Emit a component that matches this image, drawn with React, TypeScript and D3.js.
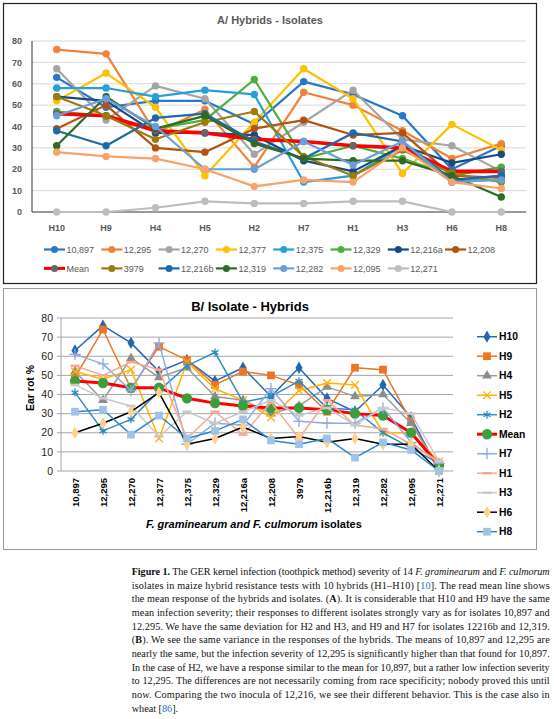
import React from 'react';
import * as d3 from 'd3';

// ---------- DATA ----------
const hybrids = ['H10', 'H9', 'H4', 'H5', 'H2', 'H7', 'H1', 'H3', 'H6', 'H8'];
const isolates = ['10,897', '12,295', '12,270', '12,377', '12,375', '12,329', '12,216a', '12,208', '3979', '12,216b', '12,319', '12,282', '12,095', '12,271'];
const yTicks = [0, 10, 20, 30, 40, 50, 60, 70, 80];

// ear rot % per isolate, in hybrid order H10, H9, H4, H5, H2, H7, H1, H3, H6, H8
const v10897 = [63, 49, 52, 52, 41, 61, 55, 45, 20, 31];
const v12295 = [76, 74, 37, 48, 21, 56, 50, 38, 25, 32];
const v12270 = [67, 43, 59, 53, 27, 42, 57, 34, 31, 19];
const v12377 = [52, 65, 49, 17, 42, 67, 53, 18, 41, 29];
const v12375 = [58, 58, 54, 57, 55, 14, 17, 31, 14, 17];
const v12329 = [47, 45, 39, 43, 62, 25, 31, 25, 17, 21];
const v12216a = [54, 52, 37, 37, 36, 24, 19, 31, 23, 27];
const v12208 = [39, 50, 30, 28, 39, 43, 36, 37, 17, 16];
const v3979 = [54, 45, 34, 42, 47, 26, 17, 29, 18, 14];
const v12216b = [38, 31, 44, 46, 33, 25, 37, 33, 15, 17];
const v12319 = [31, 54, 39, 45, 32, 25, 24, 24, 17, 7];
const v12282 = [45, 53, 40, 20, 20, 33, 22, 33, 14, 15];
const v12095 = [28, 26, 25, 20, 12, 15, 14, 30, 14, 11];
const v12271 = [0, 0, 2, 5, 4, 4, 5, 5, 0, 0];
const meanByHybrid = [46, 45, 38, 37, 34, 33, 31, 30, 19, 19];
const meanByIsolate = [47, 46, 43.5, 43.5, 38, 35.5, 34, 33, 33, 32, 30, 29, 20, 3];

const isolateValues = [v10897, v12295, v12270, v12377, v12375, v12329, v12216a, v12208, v3979, v12216b, v12319, v12282, v12095, v12271];

// ---------- STYLES ----------
const topSeries = [
  { name: '10,897', values: v10897, color: '#2878C8' },
  { name: '12,295', values: v12295, color: '#F0823A' },
  { name: '12,270', values: v12270, color: '#A5A5A5' },
  { name: '12,377', values: v12377, color: '#FFC000' },
  { name: '12,375', values: v12375, color: '#27A0DA' },
  { name: '12,329', values: v12329, color: '#4EAD3E' },
  { name: '12,216a', values: v12216a, color: '#174A80' },
  { name: '12,208', values: v12208, color: '#B35312' },
  { name: 'Mean', values: meanByHybrid, color: '#FF0000', marker: '#666666', mean: true },
  { name: '3979', values: v3979, color: '#9E7B0C' },
  { name: '12,216b', values: v12216b, color: '#1F6AA5' },
  { name: '12,319', values: v12319, color: '#2F6B25' },
  { name: '12,282', values: v12282, color: '#6A9FDC' },
  { name: '12,095', values: v12095, color: '#F9A26C' },
  { name: '12,271', values: v12271, color: '#BDBDBD' },
];

const hyb = (h: string) => isolateValues.map((arr) => arr[hybrids.indexOf(h)]);

type BS = { name: string; values: number[]; line: string; fill: string; sym: string; width?: number };
const bottomSeries: BS[] = [
  { name: 'H10', values: hyb('H10'), line: '#2366B4', fill: '#2366B4', sym: 'diamond' },
  { name: 'H9', values: hyb('H9'), line: '#EC7424', fill: '#EC7424', sym: 'square' },
  { name: 'H4', values: hyb('H4'), line: '#9A9A9A', fill: '#8C8C8C', sym: 'triangle' },
  { name: 'H5', values: hyb('H5'), line: '#FFB300', fill: '#FFB300', sym: 'times' },
  { name: 'H2', values: hyb('H2'), line: '#2A8CC4', fill: '#2A8CC4', sym: 'asterisk' },
  { name: 'Mean', values: meanByIsolate, line: '#FF0000', fill: '#3C9E3C', sym: 'circle', width: 3 },
  { name: 'H7', values: hyb('H7'), line: '#8FAAE0', fill: '#8FAAE0', sym: 'plus' },
  { name: 'H1', values: hyb('H1'), line: '#F7A98F', fill: '#F7A98F', sym: 'dash' },
  { name: 'H3', values: hyb('H3'), line: '#C9C9C9', fill: '#C9C9C9', sym: 'dash' },
  { name: 'H6', values: hyb('H6'), line: '#000000', fill: '#FFD08A', sym: 'diamond' },
  { name: 'H8', values: hyb('H8'), line: '#2E86C8', fill: '#9DC3E6', sym: 'square' },
];

const captionLines: { t: string; b?: boolean; i?: boolean; link?: boolean }[][] = [
  [{ t: 'Figure 1.', b: true }, { t: ' The GER kernel infection (toothpick method) severity of 14 ' }, { t: 'F. graminearum', i: true }, { t: ' and ' }, { t: 'F. culmorum', i: true }],
  [{ t: 'isolates in maize hybrid resistance tests with 10 hybrids (H1–H10) [' }, { t: '10', link: true }, { t: ']. The read mean line shows' }],
  [{ t: 'the mean response of the hybrids and isolates. (' }, { t: 'A', b: true }, { t: '). It is considerable that H10 and H9 have the same' }],
  [{ t: 'mean infection severity; their responses to different isolates strongly vary as for isolates 10,897 and' }],
  [{ t: '12.295. We have the same deviation for H2 and H3, and H9 and H7 for isolates 12216b and 12,319.' }],
  [{ t: '(' }, { t: 'B', b: true }, { t: '). We see the same variance in the responses of the hybrids. The means of 10,897 and 12,295 are' }],
  [{ t: 'nearly the same, but the infection severity of 12,295 is significantly higher than that found for 10,897.' }],
  [{ t: 'In the case of H2, we have a response similar to the mean for 10,897, but a rather low infection severity' }],
  [{ t: 'to 12,295. The differences are not necessarily coming from race specificity; nobody proved this until' }],
  [{ t: 'now. Comparing the two inocula of 12,216, we see their different behavior. This is the case also in' }],
  [{ t: 'wheat [' }, { t: '86', link: true }, { t: '].' }],
];

const SANS = '"Liberation Sans", Arial, sans-serif';

function Marker({ s, x, y }: { s: BS; x: number; y: number }) {
  if (s.sym === 'circle') return <circle cx={x} cy={y} r={5.2} fill={s.fill} />;
  if (s.sym === 'dash') return <line x1={x - 4.5} x2={x + 4.5} y1={y} y2={y} stroke={s.fill} strokeWidth={2.5} />;
  const types: Record<string, any> = {
    diamond: d3.symbolDiamond, square: d3.symbolSquare, triangle: d3.symbolTriangle,
    times: d3.symbolTimes, asterisk: d3.symbolAsterisk, plus: d3.symbolPlus,
  };
  const sizes: Record<string, number> = { diamond: 44, square: 60, triangle: 42, times: 40, asterisk: 44, plus: 44 };
  const stroked = ['times', 'asterisk', 'plus'].includes(s.sym);
  const p = d3.symbol().type(types[s.sym]).size(sizes[s.sym])() as string;
  return stroked
    ? <path d={p} transform={`translate(${x},${y})`} fill="none" stroke={s.fill} strokeWidth={1.3} />
    : <path d={p} transform={`translate(${x},${y})`} fill={s.fill} />;
}

export default function App() {
  // ----- Chart A -----
  const xA = d3.scalePoint<string>().domain(hybrids).range([32, 526]).padding(0.5);
  const yA = d3.scaleLinear().domain([0, 80]).range([212, 41]);
  const lineA = d3.line<number>().x((_, i) => xA(hybrids[i])!).y((d) => yA(d));

  // ----- Chart B -----
  const xB = d3.scalePoint<string>().domain(isolates).range([61, 453]).padding(0.5);
  const yB = d3.scaleLinear().domain([0, 80]).range([471, 318]);
  const lineB = d3.line<number>().x((_, i) => xB(isolates[i])!).y((d) => yB(d));

  return (
    <svg width={554} height={719} style={{ position: 'absolute', left: 0, top: 0, background: '#fff' }}>
      {/* ===== Chart A ===== */}
      <rect x={3.5} y={3.5} width={533} height={280} fill="#fff" stroke="#222" strokeWidth={1.2} />
      <text x={270} y={24} textAnchor="middle" fontFamily={SANS} fontWeight="bold" fontSize={11} fill="#595959">A/ Hybrids - Isolates</text>
      {yTicks.map((t) => (
        <g key={'ga' + t}>
          {t > 0 && <line x1={32} x2={526} y1={yA(t)} y2={yA(t)} stroke="#D9D9D9" strokeWidth={1} />}
          <text x={22} y={yA(t)} dy="0.35em" textAnchor="end" fontFamily={SANS} fontWeight="bold" fontSize={9} fill="#595959">{t}</text>
        </g>
      ))}
      <line x1={32} x2={32} y1={yA(80)} y2={yA(0)} stroke="#333" strokeWidth={1} />
      <line x1={32} x2={526} y1={yA(0)} y2={yA(0)} stroke="#333" strokeWidth={1} />
      {hybrids.map((h) => (
        <text key={'xa' + h} x={xA(h)} y={230.5} textAnchor="middle" fontFamily={SANS} fontWeight="bold" fontSize={9} fill="#595959">{h}</text>
      ))}
      {topSeries.map((s) => (
        <g key={'sa' + s.name}>
          <path d={lineA(s.values)!} fill="none" stroke={s.color} strokeWidth={s.mean ? 3.6 : 2.2} strokeLinejoin="round" />
          {s.values.map((v, i) => (
            <circle key={i} cx={xA(hybrids[i])} cy={yA(v)} r={3.7} fill={s.marker || s.color} />
          ))}
        </g>
      ))}
      {topSeries.map((s, k) => {
        const row = k < 8 ? 0 : 1;
        const col = k < 8 ? k : k - 8;
        const x0 = 44 + col * 57.3;
        const y0 = row === 0 ? 249.5 : 268.4;
        return (
          <g key={'la' + s.name}>
            <line x1={x0} x2={x0 + 21} y1={y0} y2={y0} stroke={s.color} strokeWidth={s.mean ? 3 : 2.2} />
            <circle cx={x0 + 10.5} cy={y0} r={3.5} fill={s.marker || s.color} />
            <text x={x0 + 22.5} y={y0} dy="0.35em" fontFamily={SANS} fontSize={9} fill="#595959">{s.name}</text>
          </g>
        );
      })}

      {/* ===== Chart B ===== */}
      <rect x={3.5} y={288.5} width={533} height={261} fill="#fff" stroke="#9A9A9A" strokeWidth={1} />
      <text x={250} y={311} textAnchor="middle" fontFamily={SANS} fontWeight="bold" fontSize={13} fill="#000">B/ Isolate - Hybrids</text>
      {yTicks.map((t) => (
        <g key={'gb' + t}>
          <line x1={61} x2={453} y1={yB(t)} y2={yB(t)} stroke="#A6A6A6" strokeWidth={1} />
          <line x1={57} x2={61} y1={yB(t)} y2={yB(t)} stroke="#A6A6A6" strokeWidth={1} />
          <text x={53} y={yB(t)} dy="0.35em" textAnchor="end" fontFamily={SANS} fontSize={10.5} fill="#222">{t}</text>
        </g>
      ))}
      <line x1={61} x2={61} y1={yB(80)} y2={yB(0)} stroke="#A6A6A6" strokeWidth={1} />
      <text transform={`translate(30,${388}) rotate(-90)`} textAnchor="middle" dy="0.35em" fontFamily={SANS} fontWeight="bold" fontSize={10.5} fill="#000">Ear rot %</text>
      {isolates.map((c) => (
        <text key={'xb' + c} transform={`translate(${xB(c)},478) rotate(-90)`} textAnchor="end" dominantBaseline="central" fontFamily={SANS} fontWeight="bold" fontSize={9.5} fill="#000">{c}</text>
      ))}
      <text x={146} y={528} fontFamily={SANS} fontWeight="bold" fontSize={11} fill="#000">
        <tspan fontStyle="italic">F. graminearum and F. culmorum</tspan>
        <tspan>{'  isolates'}</tspan>
      </text>
      {bottomSeries.map((s) => (
        <g key={'sb' + s.name}>
          <path d={lineB(s.values)!} fill="none" stroke={s.line} strokeWidth={s.width || 1.5} strokeLinejoin="round" />
          {s.values.map((v, i) => (
            <Marker key={i} s={s} x={xB(isolates[i])!} y={yB(v)} />
          ))}
        </g>
      ))}
      {bottomSeries.map((s, k) => {
        const y0 = 336.7 + k * 19.5;
        return (
          <g key={'lb' + s.name}>
            <line x1={477} x2={497} y1={y0} y2={y0} stroke={s.line} strokeWidth={s.width || 1.5} />
            <Marker s={s} x={487} y={y0} />
            <text x={499} y={y0} dy="0.35em" fontFamily={SANS} fontWeight="bold" fontSize={10.3} fill="#000">{s.name}</text>
          </g>
        );
      })}

      {/* ===== Caption ===== */}
      {captionLines.map((segs, li) => (
        <text key={'cap' + li} x={131.7} y={575 + li * 13.65}
          fontFamily='"Liberation Serif", "DejaVu Serif", serif' fontSize={10.2} fill="#111"
          {...(li < captionLines.length - 1 ? { textLength: 418, lengthAdjust: 'spacing' } : {})}>
          {segs.map((s, si) => (
            <tspan key={si} fontWeight={s.b ? 'bold' : undefined} fontStyle={s.i ? 'italic' : undefined} fill={s.link ? '#2F6EBA' : undefined}>{s.t}</tspan>
          ))}
        </text>
      ))}
    </svg>
  );
}
